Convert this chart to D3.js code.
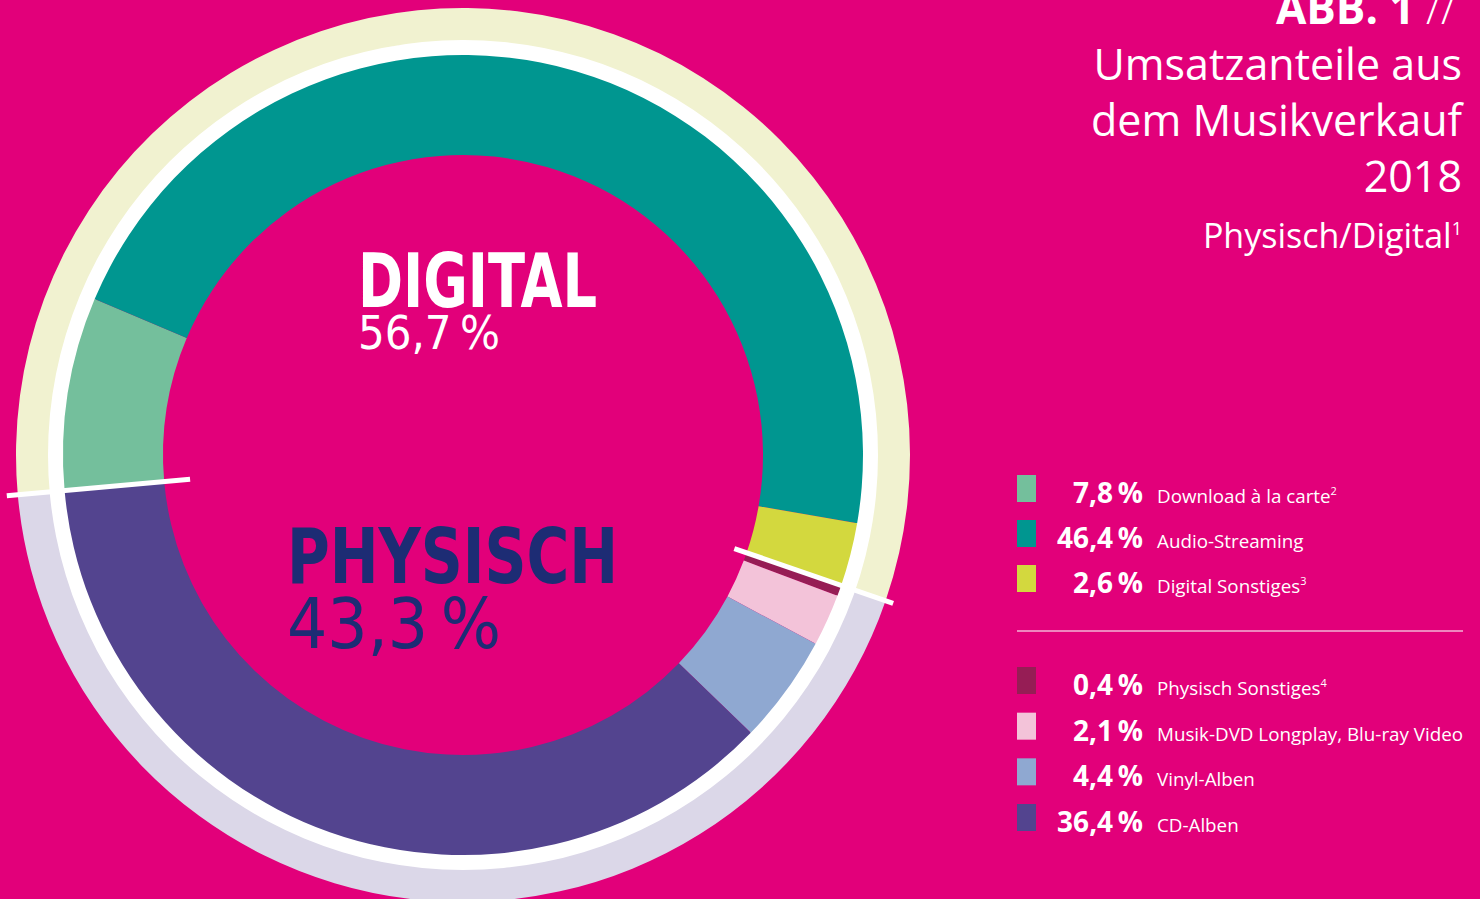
<!DOCTYPE html>
<html lang="de">
<head>
<meta charset="UTF-8">
<title>Umsatzanteile aus dem Musikverkauf 2018</title>
<script src="https://cdn.jsdelivr.net/npm/d3@7"></script>
<style>
    html, body {
        margin: 0;
        padding: 0;
        background: #e2007a;
        overflow: hidden;
    }
    svg {
        display: block;
    }
    .sans {
        font-family: "Open Sans", "Noto Sans", sans-serif;
    }
    .narrow {
        font-family: "Liberation Sans Narrow", "DejaVu Sans Condensed", "Roboto", sans-serif;
    }
</style>
</head>
<body>
<svg id="chart" width="1480" height="899"></svg>
<script>
    // segments, clockwise from the digital/physical boundary on the left
    const categories = ["Download à la carte", "Audio-Streaming", "Digital Sonstiges",
        "Physisch Sonstiges", "Musik-DVD Longplay, Blu-ray Video", "Vinyl-Alben", "CD-Alben"];
    const footnotes = ["2", "", "3", "4", "", "", ""];
    const values = [7.8, 46.4, 2.6, 0.4, 2.1, 4.4, 36.4];
    const segmentGroup = ["digital", "digital", "digital", "physisch", "physisch", "physisch", "physisch"];
    const colors = ["#74bf9c", "#009690", "#d3d83e", "#961d55", "#f3c3d9", "#8fa8d1", "#53448f"];

    const groups = ["digital", "physisch"];
    const groupLabels = ["DIGITAL", "PHYSISCH"];
    const groupValues = [56.7, 43.3];
    const groupRingColors = ["#f1f2d0", "#dbd7e8"];

    const titleLines = ["Umsatzanteile aus", "dem Musikverkauf", "2018"];

    const fmt = v => d3.format(".1f")(v).replace(".", ",") + "\u2009%";

    const svg = d3.select("#chart");
    const cx = 463, cy = 455;
    const startAngle = -95.1 * Math.PI / 180;

    const g = svg.append("g").attr("transform", `translate(${cx},${cy})`);

    // outer pale ring split by group
    const groupPie = d3.pie().sort(null).value(d => d)
        .startAngle(startAngle).endAngle(startAngle + 2 * Math.PI);
    const ringArc = d3.arc().innerRadius(414).outerRadius(447);
    g.append("g").selectAll("path")
        .data(groupPie(groupValues))
        .join("path")
        .attr("d", ringArc)
        .attr("fill", (d, i) => groupRingColors[i]);

    // white ring
    g.append("path")
        .attr("d", d3.arc().innerRadius(399).outerRadius(415).startAngle(0).endAngle(2 * Math.PI)())
        .attr("fill", "#ffffff");

    // main donut
    const pie = d3.pie().sort(null).value(d => d)
        .startAngle(startAngle).endAngle(startAngle + 2 * Math.PI);
    const arc = d3.arc().innerRadius(300).outerRadius(400);
    const arcs = pie(values);
    g.append("g").selectAll("path")
        .data(arcs)
        .join("path")
        .attr("d", arc)
        .attr("fill", (d, i) => colors[i]);

    // white separators between the digital and physical halves
    const groupArcs = groupPie(groupValues);
    const separators = [
        {angle: groupArcs[0].startAngle, r0: 274, r1: 458},
        {angle: groupArcs[0].endAngle, r0: 287, r1: 455}
    ];
    g.append("g").selectAll("line")
        .data(separators)
        .join("line")
        .attr("x1", d => d3.pointRadial(d.angle, d.r0)[0])
        .attr("y1", d => d3.pointRadial(d.angle, d.r0)[1])
        .attr("x2", d => d3.pointRadial(d.angle, d.r1)[0])
        .attr("y2", d => d3.pointRadial(d.angle, d.r1)[1])
        .attr("stroke", "#ffffff")
        .attr("stroke-width", 5);

    // centre labels
    const centre = [
        {name: groupLabels[0], value: groupValues[0], color: "#ffffff", x: 358, y: 307, size: 75, w: 239, vy: 349, vsize: 46, vw: 142},
        {name: groupLabels[1], value: groupValues[1], color: "#1d2c74", x: 287, y: 583, size: 77, w: 331, vy: 648, vsize: 70, vw: 214}
    ];
    centre.forEach(c => {
        svg.append("text")
            .attr("class", "narrow")
            .attr("x", c.x).attr("y", c.y)
            .attr("font-size", c.size)
            .attr("font-weight", "bold")
            .attr("fill", c.color)
            .attr("textLength", c.w)
            .attr("lengthAdjust", "spacingAndGlyphs")
            .text(c.name);
        svg.append("text")
            .attr("class", "narrow")
            .attr("x", c.x).attr("y", c.vy)
            .attr("font-size", c.vsize)
            .attr("fill", c.color)
            .attr("textLength", c.vw)
            .attr("lengthAdjust", "spacingAndGlyphs")
            .text(fmt(c.value));
    });

    // title block
    const title = svg.append("g").attr("class", "sans").attr("fill", "#ffffff").attr("text-anchor", "end");
    const abb = title.append("text").attr("x", 1456).attr("y", 24).attr("font-size", 44);
    abb.append("tspan").attr("font-weight", "bold").text("ABB. 1 ");
    abb.append("tspan").attr("font-weight", "300").text("//");
    title.selectAll("text.line")
        .data(titleLines)
        .join("text")
        .attr("class", "line")
        .attr("x", 1462)
        .attr("y", (d, i) => 80 + i * 56)
        .attr("font-size", 43)
        .attr("font-weight", "400")
        .text(d => d);
    const sub = title.append("text").attr("x", 1462).attr("y", 248).attr("font-size", 34).attr("font-weight", "400");
    sub.append("tspan").text("Physisch/Digital");
    sub.append("tspan").attr("font-size", 18).attr("dy", -13).text("1");

    // legend
    const rowY = d3.scalePoint().domain(d3.range(3)).range([503, 593]);
    const rowY2 = d3.scalePoint().domain(d3.range(4)).range([695, 832]);
    const legendData = categories.map((c, i) => ({
        name: c, note: footnotes[i], value: values[i], color: colors[i],
        y: segmentGroup[i] === groups[0] ? rowY(i) : rowY2(i - 3)
    }));
    const legend = svg.append("g").attr("class", "sans");
    const row = legend.selectAll("g")
        .data(legendData)
        .join("g")
        .attr("transform", d => `translate(0,${d.y})`);
    row.append("rect")
        .attr("x", 1017).attr("y", -28)
        .attr("width", 19).attr("height", 27)
        .attr("fill", d => d.color);
    row.append("text")
        .attr("x", 1143)
        .attr("text-anchor", "end")
        .attr("font-size", 28)
        .attr("font-weight", "bold")
        .attr("fill", "#ffffff")
        .text(d => fmt(d.value));
    const lab = row.append("text")
        .attr("x", 1157)
        .attr("font-size", 18.8)
        .attr("fill", "#ffffff");
    lab.append("tspan").text(d => d.name);
    lab.append("tspan")
        .attr("font-size", 11)
        .attr("dy", -8)
        .text(d => d.note);

    legend.append("line")
        .attr("x1", 1017).attr("x2", 1463)
        .attr("y1", 631).attr("y2", 631)
        .attr("stroke", "#f2b3d6")
        .attr("stroke-width", 1.5);
</script>
</body>
</html>
